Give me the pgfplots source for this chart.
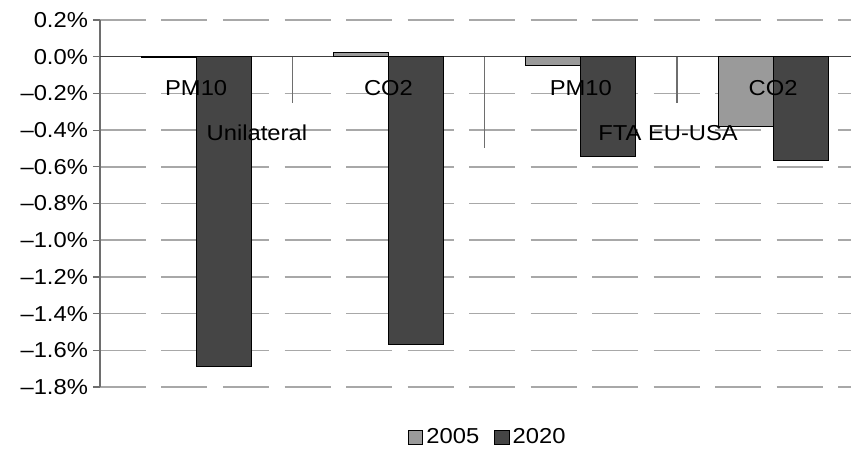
\documentclass[border=0pt]{standalone}
\usepackage{fontspec}
\setmainfont{Liberation Sans}[FakeStretch=1.1]
\usepackage{pgfplots}
\usepackage{pgfplotstable}
\pgfplotsset{compat=1.18}
\pgfplotstableread{
x y2005 y2020
0 -0.003 -1.69
1 0.025 -1.57
2 -0.05 -0.545
3 -0.38 -0.565
}\data
\definecolor{cA}{HTML}{9A9A9A}
\definecolor{cB}{HTML}{454545}
\definecolor{gridc}{HTML}{A8A8A8}
\definecolor{axc}{HTML}{6E6E6E}
\newcommand{\lf}{\fontsize{10.8}{12}\selectfont}
\begin{document}
\begin{tikzpicture}
\begin{axis}[
  at={(0,0)}, anchor=south west,
  scale only axis, width=375.5pt, height=183.5pt,
  xmin=-0.5, xmax=3.405, ymin=-1.8, ymax=0.2,
  axis x line=none, axis y line*=left,
  axis line style={-, axc, line width=0.6pt},
  ytick={-1.8,-1.6,-1.4,-1.2,-1.0,-0.8,-0.6,-0.4,-0.2,0,0.2},
  yticklabels={–1.8\%,–1.6\%,–1.4\%,–1.2\%,–1.0\%,–0.8\%,–0.6\%,–0.4\%,–0.2\%,0.0\%,0.2\%},
  yticklabel style={font=\lf, xshift=1pt},
  ytick style={axc, line width=0.6pt},
  tick align=outside, major tick length=3.5pt,
  ymajorgrids,
  major grid style={gridc, line width=0.75pt, dash pattern=on 23pt off 7.75pt},
  ybar=0pt, bar width=0.286,
  legend style={at={(0.517,-0.138)}, anchor=center, draw=none, fill=none, font=\lf,
    legend columns=2, nodes={inner xsep=1.5pt, inner ysep=1pt},
    /tikz/every even column/.append style={column sep=6pt}},
  legend image code/.code={\draw[#1,draw=black,line width=0.5pt] (0pt,-3.6pt) rectangle (7.2pt,3.6pt);},
]
\draw[black!75, line width=0.6pt] (axis cs:-0.5,0) -- (axis cs:3.405,0);
\addplot[fill=cA, draw=black, line width=0.5pt] table[x=x,y=y2005]{\data};
\addplot[fill=cB, draw=black, line width=0.5pt] table[x=x,y=y2020]{\data};
\legend{2005,2020}
\draw[axc, line width=0.6pt] (axis cs:0.5,0) -- (axis cs:0.5,-0.25);
\draw[axc, line width=0.6pt] (axis cs:1.5,0) -- (axis cs:1.5,-0.5);
\draw[axc, line width=0.6pt] (axis cs:2.5,0) -- (axis cs:2.5,-0.25);
\node[font=\lf] at (axis cs:0,-0.17) {PM10};
\node[font=\lf] at (axis cs:1,-0.17) {CO2};
\node[font=\lf] at (axis cs:2,-0.17) {PM10};
\node[font=\lf] at (axis cs:3,-0.17) {CO2};
\node[font=\lf] at (axis cs:0.316,-0.415) {Unilateral};
\node[font=\lf] at (axis cs:2.454,-0.415) {FTA EU-USA};
\end{axis}
\pgfresetboundingbox
\path[use as bounding box] (-50pt,-32pt) rectangle (375.5pt,193.5pt);
\end{tikzpicture}
\end{document}
